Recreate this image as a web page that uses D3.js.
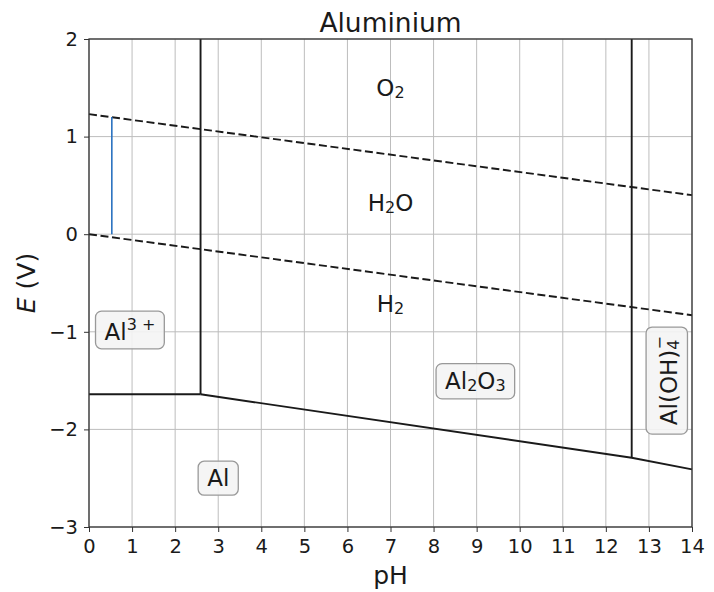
<!DOCTYPE html>
<html>
<head>
<meta charset="utf-8">
<script src="https://cdn.jsdelivr.net/npm/d3@7"></script>
<style>
  body { margin: 0; background: #fff; }
  svg text { font-family: "DejaVu Sans", sans-serif; fill: #1a1a1a; }
</style>
</head>
<body>
<svg id="chart" width="714" height="592"></svg>
<script>
// axis ticks
const xTicks = d3.range(0, 15);
const yTicks = [-3, -2, -1, 0, 1, 2];

// water stability lines (dashed) as [pH, E]
const waterUpper = [[0, 1.23], [14, 0.40]];
const waterLower = [[0, 0.0], [14, -0.83]];

// blue line
const blueLine = [[0.53, 0.0], [0.53, 1.2]];

// phase boundaries (solid)
const boundaries = [
  [[0, -1.64], [2.59, -1.64]],
  [[2.59, -1.64], [2.59, 2]],
  [[2.59, -1.64], [12.6, -2.29], [14, -2.41]],
  [[12.6, -2.29], [12.6, 2]]
];

// region labels: parts are [text, shift]
const labels = [
  { pos: [7, 1.5], parts: [['O', null], ['2', 'sub']], box: false },
  { pos: [7, 0.32], parts: [['H', null], ['2', 'sub'], ['O', null]], box: false },
  { pos: [7, -0.72], parts: [['H', null], ['2', 'sub']], box: false },
  { pos: [0.95, -1.0], parts: [['Al', null], ['3 +', 'sup']], box: true },
  { pos: [8.97, -1.5], parts: [['Al', null], ['2', 'sub'], ['O', null], ['3', 'sub']], box: true },
  { pos: [3.0, -2.5], parts: [['Al', null]], box: true },
  { pos: [13.47, -1.5], parts: [['Al(OH)', null], ['4', 'sub'], ['−', 'supback']], box: true, rotate: -90 }
];

const margin = { left: 89, right: 22, top: 39, bottom: 65 };
const width = 714, height = 592;
const svg = d3.select('#chart');

const x = d3.scaleLinear().domain([0, 14]).range([margin.left, width - margin.right]);
const y = d3.scaleLinear().domain([-3, 2]).range([height - margin.bottom, margin.top]);

// grid
svg.append('g').selectAll('line').data(xTicks).join('line')
  .attr('x1', d => x(d)).attr('x2', d => x(d))
  .attr('y1', y(-3)).attr('y2', y(2))
  .attr('stroke', '#bdbdbd').attr('stroke-width', 1);
svg.append('g').selectAll('line').data(yTicks).join('line')
  .attr('x1', x(0)).attr('x2', x(14))
  .attr('y1', d => y(d)).attr('y2', d => y(d))
  .attr('stroke', '#bdbdbd').attr('stroke-width', 1);

const line = d3.line().x(d => x(d[0])).y(d => y(d[1]));

// water lines
[waterUpper, waterLower].forEach(pts => {
  svg.append('path').attr('d', line(pts))
    .attr('fill', 'none').attr('stroke', '#1a1a1a')
    .attr('stroke-width', 1.9).attr('stroke-dasharray', '8,3.6');
});

// boundaries
boundaries.forEach(pts => {
  svg.append('path').attr('d', line(pts))
    .attr('fill', 'none').attr('stroke', '#1a1a1a').attr('stroke-width', 1.9);
});

svg.append('path').attr('d', line(blueLine))
  .attr('fill', 'none').attr('stroke', '#2a72c0').attr('stroke-width', 1.6);

// axes
const xAxis = svg.append('g').attr('transform', `translate(0,${y(-3)})`)
  .call(d3.axisBottom(x).tickValues(xTicks).tickSize(5).tickPadding(7).tickFormat(d3.format('d')));
const yAxis = svg.append('g').attr('transform', `translate(${x(0)},0)`)
  .call(d3.axisLeft(y).tickValues(yTicks).tickSize(5).tickPadding(6)
    .tickFormat(d => d < 0 ? '\u2212' + Math.abs(d) : d));
[xAxis, yAxis].forEach(g => {
  g.select('.domain').remove();
  g.selectAll('line').attr('stroke', '#333');
  g.selectAll('text').attr('font-size', 19.5).attr('fill', '#1a1a1a')
    .attr('font-family', '"DejaVu Sans", sans-serif');
});

// frame
svg.append('rect')
  .attr('x', x(0)).attr('y', y(2))
  .attr('width', x(14) - x(0)).attr('height', y(-3) - y(2))
  .attr('fill', 'none').attr('stroke', '#333').attr('stroke-width', 1.3);

// labels
labels.forEach(l => {
  const g = svg.append('g')
    .attr('transform', `translate(${x(l.pos[0])},${y(l.pos[1])}) rotate(${l.rotate || 0})`);
  const boxRect = g.append('rect');
  const t = g.append('text').attr('font-size', 23).attr('text-anchor', 'middle')
    .attr('dominant-baseline', 'central');
  l.parts.forEach(([s, shift]) => {
    const ts = t.append('tspan').text(s);
    if (shift === 'sub') ts.attr('font-size', 16).attr('baseline-shift', '-30%');
    if (shift === 'sup') ts.attr('font-size', 16).attr('baseline-shift', '45%');
    if (shift === 'supback') ts.attr('font-size', 16).attr('baseline-shift', '60%').attr('dx', -10);
  });
  if (l.box) {
    const bb = t.node().getBBox();
    const px = 9, py = 5;
    boxRect.attr('x', bb.x - px).attr('y', bb.y - py + 1)
      .attr('width', bb.width + 2 * px).attr('height', bb.height + 2 * py - 2)
      .attr('rx', 6).attr('fill', '#f4f4f4').attr('fill-opacity', 0.9)
      .attr('stroke', '#999').attr('stroke-width', 1.3);
  } else {
    boxRect.remove();
  }
});

// titles
svg.append('text').attr('x', (x(0) + x(14)) / 2).attr('y', 32)
  .attr('text-anchor', 'middle').attr('font-size', 26.5).text('Aluminium');
svg.append('text').attr('x', (x(0) + x(14)) / 2).attr('y', 584)
  .attr('text-anchor', 'middle').attr('font-size', 25).text('pH');
const yl = svg.append('text')
  .attr('transform', `translate(35,${(y(2) + y(-3)) / 2}) rotate(-90)`)
  .attr('text-anchor', 'middle').attr('font-size', 25);
yl.append('tspan').attr('font-style', 'italic').text('E');
yl.append('tspan').text(' (V)');
</script>
</body>
</html>
